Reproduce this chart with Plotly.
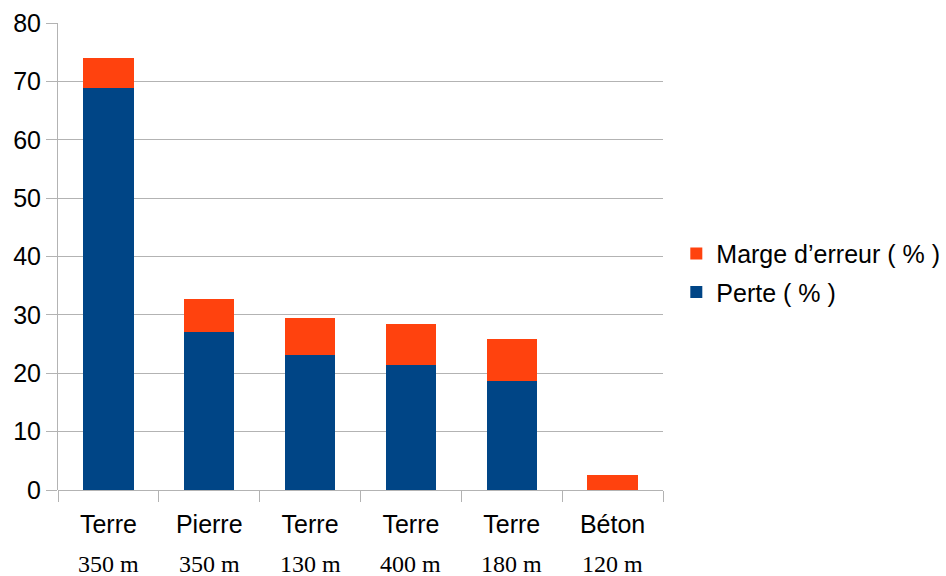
import plotly.graph_objects as go

materials = ["Terre", "Pierre", "Terre", "Terre", "Terre", "Béton"]
distances = ["350 m", "350 m", "130 m", "400 m", "180 m", "120 m"]
perte = [68.8, 27.1, 23.1, 21.4, 18.7, 0]
marge = [5.2, 5.6, 6.4, 7.0, 7.2, 2.5]
y_ticks = [0, 10, 20, 30, 40, 50, 60, 70, 80]

cats = [f"{m} {d}" for m, d in zip(materials, distances)]

BLUE = "#004586"
ORANGE = "#ff420e"
GRID = "#b3b3b3"

fig = go.Figure()
fig.add_trace(go.Bar(x=cats, y=perte, name="Perte ( % )", marker=dict(color=BLUE, line_width=0),
                     legendgroup="a", legendrank=2))
fig.add_trace(go.Bar(x=cats, y=marge, name="Marge d’erreur ( % )", marker=dict(color=ORANGE, line_width=0),
                     legendgroup="b", legendrank=1))

for c, d in zip(cats, distances):
    fig.add_annotation(x=c, y=0, xref="x", yref="paper", text=d, showarrow=False,
                       yanchor="middle", yshift=-74, borderpad=0,
                       font=dict(family="Liberation Serif", size=24, color="#000000"))

fig.update_layout(
    width=946, height=576,
    barmode="stack", bargap=0.5,
    plot_bgcolor="white", paper_bgcolor="white",
    margin=dict(l=58, r=283, t=23, b=86, autoexpand=False),
    font=dict(family="Liberation Sans", size=25, color="#000000"),
    showlegend=True,
    legend=dict(x=1.022, y=0.465, xanchor="left", yanchor="middle",
                traceorder="grouped", tracegroupgap=3,
                font=dict(family="Liberation Sans", size=25),
                itemwidth=30),
    xaxis=dict(tickmode="array", tickvals=cats, ticktext=materials,
               tickson="boundaries", ticks="outside", ticklen=11, tickcolor=GRID,
               showline=False, showgrid=False, zeroline=False,
               tickfont=dict(size=25), ticklabelstandoff=17),
    yaxis=dict(range=[0, 80], tickvals=y_ticks, ticks="outside", ticklen=11, tickcolor=GRID,
               showgrid=True, gridcolor=GRID, gridwidth=1,
               showline=True, linecolor=GRID, linewidth=1,
               zeroline=True, zerolinecolor=GRID, zerolinewidth=1,
               tickfont=dict(size=25), ticklabelstandoff=0),
)

fig.write_html("out.html", config={"displayModeBar": False},
               post_script="document.body.style.margin='0';")
